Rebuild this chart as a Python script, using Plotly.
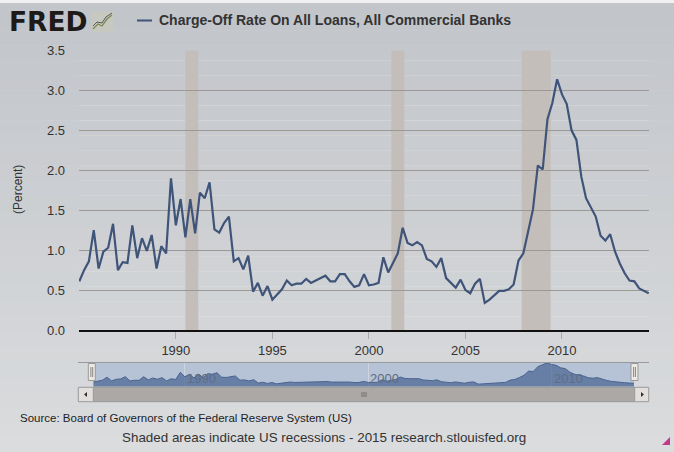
import pandas as pd
import plotly.graph_objs as go

# quarterly charge-off rate (percent)
rates_1985_1994 = [0.61, 0.75, 0.86, 1.25, 0.77, 0.98, 1.03, 1.33, 0.75, 0.85,
                   0.84, 1.31, 0.90, 1.15, 0.99, 1.19, 0.77, 1.05, 0.96, 1.90,
                   1.31, 1.64, 1.16, 1.64, 1.21, 1.72, 1.65, 1.85, 1.26, 1.22,
                   1.34, 1.42, 0.86, 0.90, 0.76, 0.93, 0.48, 0.59, 0.43, 0.55]
rates_1995_2004 = [0.38, 0.45, 0.51, 0.62, 0.56, 0.58, 0.58, 0.64, 0.59, 0.62,
                   0.65, 0.68, 0.61, 0.61, 0.70, 0.70, 0.61, 0.54, 0.56, 0.70,
                   0.56, 0.57, 0.59, 0.91, 0.72, 0.84, 0.96, 1.28, 1.09, 1.06,
                   1.10, 1.06, 0.89, 0.86, 0.79, 0.90, 0.65, 0.59, 0.53, 0.63]
rates_2005_2014 = [0.50, 0.46, 0.58, 0.64, 0.34, 0.38, 0.43, 0.49, 0.49, 0.51,
                   0.57, 0.87, 0.96, 1.22, 1.51, 2.06, 2.01, 2.64, 2.84, 3.14,
                   2.95, 2.83, 2.50, 2.38, 1.92, 1.65, 1.53, 1.42, 1.18, 1.12,
                   1.20, 0.98, 0.83, 0.71, 0.62, 0.61, 0.52, 0.49, 0.46]
rates = rates_1985_1994 + rates_1995_2004 + rates_2005_2014
quarters = pd.date_range("1985-01-01", periods=len(rates), freq="QS")

recession_start = ["1990-07-01", "2001-03-01", "2007-12-01"]
recession_end = ["1991-03-01", "2001-11-01", "2009-06-01"]

year_ticks = ["1990-01-01", "1995-01-01", "2000-01-01", "2005-01-01", "2010-01-01"]
year_labels = ["1990", "1995", "2000", "2005", "2010"]
nav_ticks = ["1990-01-01", "2000-01-01", "2010-01-01"]
nav_labels = ["1990", "2000", "2010"]

W, H = 674, 452
def px(x):
    return x / W
def py(y):
    return 1 - y / H

FONT = "Liberation Sans, Arial, sans-serif"

fig = go.Figure()

fig.add_trace(go.Scatter(x=quarters, y=rates, mode="lines", showlegend=False,
                         line=dict(color="#3f5479", width=2.2)))
# navigator copy of the series
fig.add_trace(go.Scatter(x=quarters, y=rates, mode="lines", showlegend=False,
                         xaxis="x2", yaxis="y2", fill="tozeroy",
                         fillcolor="rgba(70,98,142,0.7)",
                         line=dict(color="#4a6390", width=1)))

shapes = []
# paper background, light gradient
n_bands = 30
c0, c1 = (194, 197, 202), (218, 220, 222)
for k in range(n_bands):
    t = k / (n_bands - 1)
    col = "rgb(%d,%d,%d)" % tuple(int(a + (b - a) * t) for a, b in zip(c0, c1))
    shapes.append(dict(type="rect", xref="paper", yref="paper", layer="below",
                       x0=0, x1=1, y0=py(H * (k + 1) / n_bands), y1=py(H * k / n_bands),
                       fillcolor=col, line=dict(width=0)))
shapes.append(dict(type="rect", xref="paper", yref="paper", layer="below",
                   x0=0, x1=1, y0=py(3), y1=1, fillcolor="#f0f0f0", line=dict(width=0)))

for s, e in zip(recession_start, recession_end):
    shapes.append(dict(type="rect", xref="x", yref="y domain", layer="below",
                       x0=s, x1=e, y0=0, y1=1, fillcolor="#c4bebb", line=dict(width=0)))

# navigator background and frame
shapes.append(dict(type="rect", xref="x2 domain", yref="y2 domain", layer="below",
                   x0=0, x1=1, y0=0, y1=1, fillcolor="#b6c2d5", line=dict(width=0)))
shapes.append(dict(type="line", xref="paper", yref="paper",
                   x0=px(78), x1=px(649), y0=py(362.5), y1=py(362.5),
                   line=dict(color="#9a9a9a", width=1)))
# scrollbar
shapes.append(dict(type="rect", xref="paper", yref="paper",
                   x0=px(93.3), x1=px(634.7), y0=py(401.7), y1=py(387.3),
                   fillcolor="#aca8a5", line=dict(color="#9a9a9a", width=1)))
for a, b in [(78.3, 93.3), (634.7, 648.7)]:
    shapes.append(dict(type="rect", xref="paper", yref="paper",
                       x0=px(a), x1=px(b), y0=py(401.7), y1=py(387.3),
                       fillcolor="#e3dfdc", line=dict(color="#9a9a9a", width=1)))
shapes.append(dict(type="path", xref="paper", yref="paper", fillcolor="#333",
                   line=dict(width=0),
                   path="M %f,%f L %f,%f L %f,%f Z" % (px(84), py(394.5), px(87), py(392), px(87), py(397))))
shapes.append(dict(type="path", xref="paper", yref="paper", fillcolor="#333",
                   line=dict(width=0),
                   path="M %f,%f L %f,%f L %f,%f Z" % (px(644), py(394.5), px(641), py(392), px(641), py(397))))
for xx in [362, 364, 366]:
    shapes.append(dict(type="line", xref="paper", yref="paper",
                       x0=px(xx), x1=px(xx), y0=py(397), y1=py(392),
                       line=dict(color="#666", width=0.8)))
# handles
for a in [88.3, 631]:
    shapes.append(dict(type="rect", xref="paper", yref="paper",
                       x0=px(a), x1=px(a + 7), y0=py(380.5), y1=py(363.5),
                       fillcolor="#ece8e4", line=dict(color="#999", width=1)))
    for d in [2.6, 4.4]:
        shapes.append(dict(type="line", xref="paper", yref="paper",
                           x0=px(a + d), x1=px(a + d), y0=py(377), y1=py(367),
                           line=dict(color="#888", width=1)))
# FRED logo icon
shapes.append(dict(type="rect", xref="paper", yref="paper",
                   x0=px(91), x1=px(113), y0=py(32), y1=py(12),
                   fillcolor="#c7c8bf", line=dict(width=0)))
shapes.append(dict(type="path", xref="paper", yref="paper", line=dict(color="#7d8a55", width=1.3),
                   path="M %f,%f L %f,%f L %f,%f L %f,%f L %f,%f" % (
                       px(93), py(29), px(98), py(24), px(102), py(26), px(107), py(19), px(112), py(15))))
shapes.append(dict(type="path", xref="paper", yref="paper", line=dict(color="#55595e", width=1),
                   path="M %f,%f L %f,%f L %f,%f L %f,%f L %f,%f" % (
                       px(93), py(26), px(97), py(22), px(102), py(23), px(106), py(17), px(112), py(13))))
# legend swatch
shapes.append(dict(type="line", xref="paper", yref="paper",
                   x0=px(137), x1=px(152), y0=py(20.5), y1=py(20.5),
                   line=dict(color="#3f5479", width=2)))
# resize grip
shapes.append(dict(type="path", xref="paper", yref="paper", fillcolor="#c0398a",
                   line=dict(width=0),
                   path="M %f,%f L %f,%f L %f,%f Z" % (px(670), py(437), px(670), py(445), px(662), py(445))))

annotations = [
    dict(text="<b>FRED</b>", x=px(7), y=py(22), xanchor="left", yanchor="middle",
         font=dict(family="DejaVu Sans, sans-serif", size=26.5, color="#1e1a18")),
    dict(text="<b>Charge-Off Rate On All Loans, All Commercial Banks</b>",
         x=px(157), y=py(20.5), xanchor="left", yanchor="middle",
         font=dict(family=FONT, size=14, color="#333")),
    dict(text="(Percent)", x=px(18), y=py(190), textangle=-90,
         xanchor="center", yanchor="middle",
         font=dict(family=FONT, size=12, color="#333")),
    dict(text="Source: Board of Governors of the Federal Reserve System (US)",
         x=px(18), y=py(417.7), xanchor="left", yanchor="middle",
         font=dict(family=FONT, size=11.5, color="#222")),
    dict(text="Shaded areas indicate US recessions - 2015 research.stlouisfed.org",
         x=px(323.5), y=py(437.7), xanchor="center", yanchor="middle",
         font=dict(family=FONT, size=13.4, color="#333")),
]
for t, lab in zip(nav_ticks, nav_labels):
    annotations.append(dict(text=lab, xref="x2", x=t, yref="paper", y=py(378),
                            xanchor="left", yanchor="middle", showarrow=False,
                            font=dict(family=FONT, size=13, color="#5f6c84")))
for a in annotations:
    a.setdefault("xref", "paper")
    a.setdefault("yref", "paper")
    a["showarrow"] = False

fig.update_layout(
    template="none",
    width=W, height=H,
    margin=dict(l=0, r=0, t=0, b=0),
    paper_bgcolor="#d0d3d6",
    plot_bgcolor="#f1efec",
    shapes=shapes,
    annotations=annotations,
    xaxis=dict(domain=[px(79), px(649)], range=["1984-12-26", "2014-07-05"],
               tickvals=year_ticks, ticktext=year_labels,
               ticks="outside", ticklen=7, tickcolor="#aaa",
               showgrid=False, showline=True, linecolor="#111", linewidth=2,
               zeroline=False, automargin=False, fixedrange=True,
               tickfont=dict(family=FONT, size=13, color="#333")),
    yaxis=dict(domain=[py(330), py(50.5)], range=[0, 3.5], dtick=0.5,
               tickformat=".1f", showgrid=True, gridcolor="#9d9894", gridwidth=1,
               zeroline=False, showline=False, ticks="", ticklabelstandoff=13,
               automargin=False, fixedrange=True,
               tickfont=dict(family=FONT, size=13, color="#333")),
    xaxis2=dict(domain=[px(93.3), px(634)], range=["1985-01-01", "2014-07-01"],
                anchor="y2", tickvals=nav_ticks, showticklabels=False,
                showgrid=True, gridcolor="#cdd4e0", zeroline=False,
                showline=False, automargin=False, fixedrange=True),
    yaxis2=dict(domain=[py(386.7), py(362.5)], range=[0, 3.2], anchor="x2",
                showgrid=False, showticklabels=False, zeroline=False,
                automargin=False, fixedrange=True),
)

# the page's default body margin would push the figure 8px right and down
fig.write_html("out.html", post_script="document.body.style.margin='0';",
               config={"displayModeBar": False})
